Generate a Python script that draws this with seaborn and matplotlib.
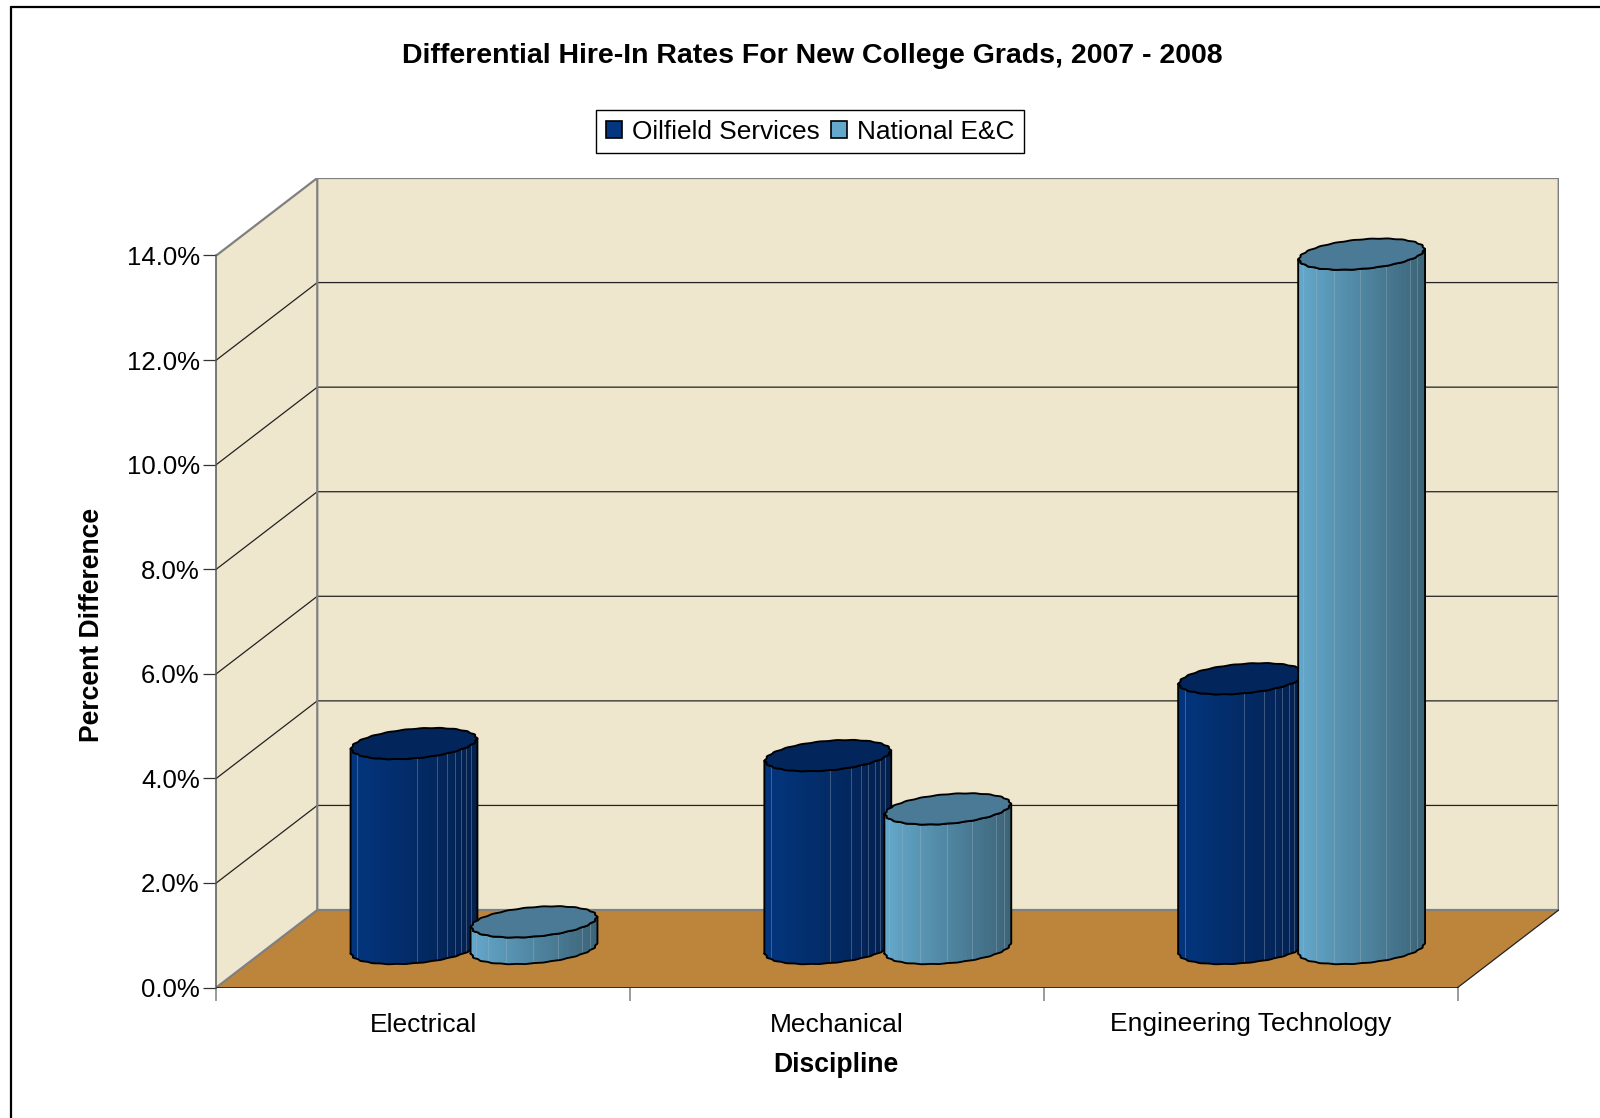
import numpy as np
import pandas as pd
import matplotlib
matplotlib.use("Agg")
import matplotlib.pyplot as plt
import seaborn as sns
from matplotlib.lines import Line2D
from matplotlib.path import Path
from matplotlib.ticker import FuncFormatter, FixedLocator

categories = ["Electrical", "Mechanical", "Engineering Technology"]
oilfield = [3.92, 3.69, 5.16]
national = [0.51, 2.67, 13.28]
series_names = ["Oilfield Services", "National E&C"]
y_ticks = [0, 2, 4, 6, 8, 10, 12, 14]

W, H = 1600, 1118
sns.set_theme(style="white")
plt.rcParams["font.family"] = ["Liberation Sans", "DejaVu Sans"]

WALL = "#eee6cd"
FLOOR = "#bd843c"
GRAY = "#808080"
LEFT = {0: "#03367f", 1: "#64a9cc"}
RIGHT = {0: "#03204e", 1: "#3c6377"}
CAP = {0: "#02255c", 1: "#4a7a95"}
FACET_LINES = {0: [.05, .52, .68, .76, .82, .87, .91, .95], 1: [.04, .14, .28, .49, .69, .88, .94]}

fig = plt.figure(figsize=(W / 100, H / 100), dpi=100, facecolor="white")
x0, x1, yb, yt = 216.3, 1558.7, 987.5, 178.0
ax = fig.add_axes([x0 / W, 1 - yb / H, (x1 - x0) / W, (yb - yt) / H])
ax.patch.set_alpha(0)

DX = 101 / 413.9
DY = 77.5 / 52.3
ymax = max(y_ticks)

df = pd.DataFrame({
    "Discipline": categories * 2,
    "Value": oilfield + national,
    "Series": [series_names[0]] * 3 + [series_names[1]] * 3,
})
sns.barplot(data=df, x="Discipline", y="Value", hue="Series", ax=ax, width=0.58, gap=0,
            palette=[LEFT[0], LEFT[1]], dodge=True, saturation=1, edgecolor="none", zorder=5)
handles, labels = ax.get_legend_handles_labels()
if ax.get_legend():
    ax.get_legend().remove()

ax.set_xlim(-0.5, 2.5 + DX)
ax.set_ylim(0, ymax + DY)

# walls and floor
L, R = -0.5, 2.5
ax.fill([L, L + DX, L + DX, L], [0, DY, ymax + DY, ymax], color=WALL, lw=0, zorder=0)
ax.fill([L + DX, R + DX, R + DX, L + DX], [DY, DY, ymax + DY, ymax + DY], color=WALL, lw=0, zorder=0)
ax.fill([L, R, R + DX, L + DX], [0, 0, DY, DY], color=FLOOR, lw=0, zorder=0)

for v in y_ticks[1:-1]:
    ax.plot([L, L + DX, R + DX], [v, v + DY, v + DY], color="#222222", lw=0.9, zorder=1,
            solid_joinstyle="miter")
edge = dict(color=GRAY, lw=1.6, zorder=2, solid_capstyle="butt")
ax.plot([L, L + DX, R + DX, R + DX, L + DX, L + DX], [ymax, ymax + DY, ymax + DY, DY, DY, ymax + DY], **edge)
ax.plot([L, L + DX], [0, DY], **edge)
ax.plot([R, R + DX], [0, DY], color="#222222", lw=0.9, zorder=2)
ax.plot([L, R], [0, 0], color="black", lw=1.1, zorder=2)

# cylinders, built on the bars seaborn drew
B = 0.204
F = 0.503
LUMPS = 22
LUMP_SIZE = 0.014
n_half = 66
bars = [p for c in ax.containers for p in c]
order = sorted(range(len(bars)), key=lambda i: bars[i].get_x())
for rank, i in enumerate(order):
    bar = bars[i]
    s = i // 3
    h = bar.get_height()
    cx = bar.get_x() + bar.get_width() / 2 + F * DX
    cy = F * DY
    a = bar.get_width() / 2
    bx, by = B * DX, B * DY
    Rr = np.hypot(a, bx)
    t0 = np.arctan2(bx, a)
    lump = lambda t: 1 + LUMP_SIZE * (np.cos(LUMPS * (t - t0)) - 1)
    ex = lambda t: cx + lump(t) * (a * np.cos(t) + bx * np.sin(t))
    ey = lambda t: lump(t) * by * np.sin(t)
    ts = t0 + np.linspace(np.pi, 2 * np.pi, n_half + 1)
    z = 5 + rank * 0.1
    X, Y = ex(ts), ey(ts) + cy
    outline = np.column_stack([np.r_[X, X[-1], X[::-1], X[0]],
                               np.r_[Y, Y[-1] + h, Y[::-1] + h, Y[0]]])
    clip = Path(outline)
    bar.set_x(cx - Rr)
    bar.set_width(2 * Rr)
    bar.set_y(cy - by)
    bar.set_height(h + 2 * by)
    bar.set_zorder(z)
    bar.set_clip_path(clip, ax.transData)
    c0, c1 = np.array(matplotlib.colors.to_rgb(LEFT[s])), np.array(matplotlib.colors.to_rgb(RIGHT[s]))
    for k in range(len(ts) - 1):
        f = ((X[k] + X[k + 1]) / 2 - (cx - Rr)) / (2 * Rr)
        col = c0 + (c1 - c0) * np.clip(f, 0, 1)
        ax.fill([X[k], X[k + 1], X[k + 1], X[k]],
                [Y[k], Y[k + 1], Y[k + 1] + h, Y[k] + h],
                color=col, lw=0.4, zorder=z + 0.01)
    for f in FACET_LINES[s]:
        xl = cx - Rr + 2 * Rr * f
        yl = np.interp(xl, np.maximum.accumulate(X), Y)
        ln, = ax.plot([xl, xl], [yl, yl + h], color="#a9b6c4", alpha=0.35, lw=0.7, zorder=z + 0.02)
        ln.set_clip_path(clip, ax.transData)
    ax.plot(outline[:, 0], outline[:, 1], color="black", lw=1.35, zorder=z + 0.03, solid_joinstyle="round")
    tt = t0 + np.linspace(0, 2 * np.pi, 2 * n_half + 1)
    ax.fill(ex(tt), ey(tt) + cy + h, facecolor=CAP[s], edgecolor="black", lw=1.35, zorder=z + 0.04,
            joinstyle="round")

# axes
for sp in ["top", "right", "bottom"]:
    ax.spines[sp].set_visible(False)
ax.spines["left"].set_visible(True)
ax.spines["left"].set_bounds(0, ymax)
ax.spines["left"].set_color("#555555")
ax.spines["left"].set_linewidth(1.1)
ax.set_yticks(y_ticks)
ax.yaxis.set_major_formatter(FuncFormatter(lambda v, _: f"{v:.1f}%"))
ax.tick_params(axis="y", which="major", left=True, length=9.4, width=0.9, color="#333333",
               labelsize=18.5, labelcolor="black", pad=2.5)
ax.set_xticks(range(len(categories)))
ax.set_xticklabels(categories)
ax.tick_params(axis="x", which="major", bottom=False, length=0, labelsize=19, labelcolor="black", pad=18)
ax.xaxis.set_minor_locator(FixedLocator([L, L + 1, L + 2, R]))
ax.tick_params(axis="x", which="minor", bottom=True, length=9.4, width=1.1, color=GRAY)

ax.set_xlabel("")
ax.set_ylabel("")
fig.text(836 / W, 1 - 1065 / H, "Discipline", ha="center", va="center", fontsize=19.1, fontweight="bold", color="black")
fig.text(92 / W, 1 - 625 / H, "Percent Difference", ha="center", va="center", rotation=90,
         fontsize=19.1, fontweight="bold", color="black")
fig.text(812.5 / W, 1 - 56 / H, "Differential Hire-In Rates For New College Grads, 2007 - 2008",
         ha="center", va="center", fontsize=20.5, fontweight="bold", color="black")

leg_handles = [plt.Rectangle((0, 0), 1, 1, facecolor=LEFT[k], edgecolor="black", lw=1.2) for k in range(2)]
leg = fig.legend(leg_handles, labels, loc="center", bbox_to_anchor=(810 / W, 1 - 131.6 / H), ncols=2,
                 frameon=True, fancybox=False, edgecolor="black", framealpha=1, fontsize=18.9,
                 labelcolor="black", handlelength=0.62, handleheight=0.65, handletextpad=0.37,
                 columnspacing=0.45, borderpad=0.36, borderaxespad=0)
leg.get_frame().set_linewidth(1.0)

# outer chart frame
fig.add_artist(Line2D([11 / W, 11 / W], [0, 1 - 7 / H], color="black", lw=1.6))
fig.add_artist(Line2D([11 / W, 1], [1 - 7 / H, 1 - 7 / H], color="black", lw=1.6))

fig.savefig("out.png", dpi=100, facecolor="white")
